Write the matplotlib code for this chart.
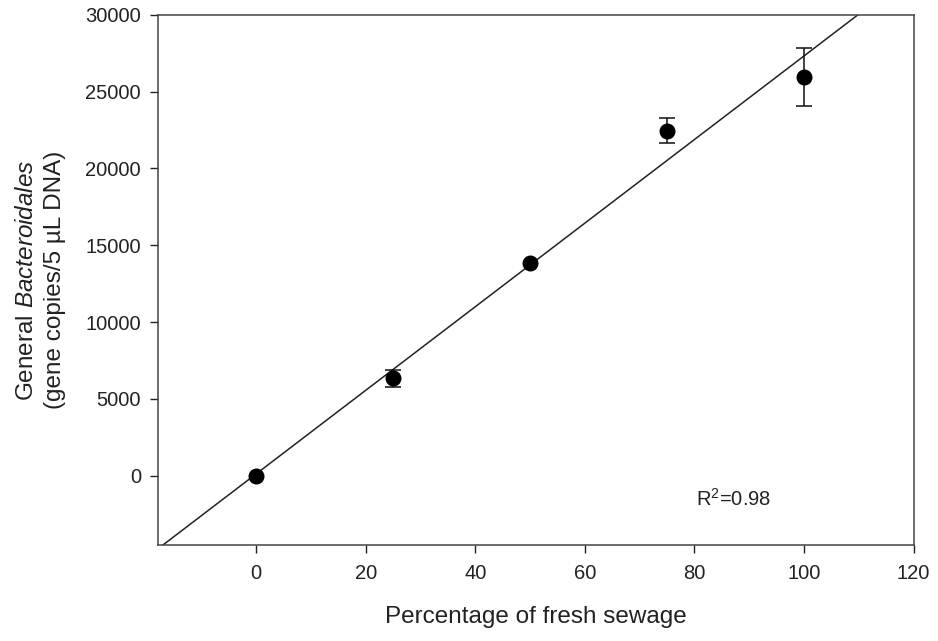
import numpy as np
import matplotlib.pyplot as plt

plt.rcParams["font.family"] = ["Liberation Sans", "DejaVu Sans"]
plt.rcParams["mathtext.fontset"] = "custom"
plt.rcParams["mathtext.rm"] = "Liberation Sans"
plt.rcParams["mathtext.it"] = "Liberation Sans:italic"

percent = [0, 25, 50, 75, 100]
copies = [0, 6350, 13850, 22450, 25950]
err_low = [0, 550, 0, 800, 1900]
err_high = [0, 550, 0, 850, 1900]

x_ticks = [0, 20, 40, 60, 80, 100, 120]
y_ticks = [0, 5000, 10000, 15000, 20000, 25000, 30000]

slope, intercept = np.polyfit(percent, copies, 1)

fig = plt.figure(figsize=(9.38, 6.41), dpi=100)
ax = fig.add_axes([0.168, 0.150, 0.806, 0.827])

xfit = np.array([-20, 125])
ax.plot(xfit, slope * xfit + intercept, color="#222222", lw=1.1)

# only points with a visible spread get error bars
has_err = [i for i in range(len(percent)) if err_low[i] > 0 or err_high[i] > 0]
ax.errorbar([percent[i] for i in has_err], [copies[i] for i in has_err],
            yerr=[[err_low[i] for i in has_err], [err_high[i] for i in has_err]],
            fmt="none", ecolor="#111111", capsize=5.8, elinewidth=1.1, capthick=1.1)
ax.plot(percent, copies, "o", color="black", markersize=10.5)

ax.set_xlim(-18, 120)
ax.set_ylim(-4500, 30000)
ax.set_xticks(x_ticks)
ax.set_yticks(y_ticks)
ax.tick_params(direction="out", length=5.5, width=1, labelsize=14.5, colors="#222222", pad=6.5)
ax.tick_params(axis="x", pad=8)

for sp in ax.spines.values():
    sp.set_linewidth(1.1)
    sp.set_color("#444444")

ax.text(80.3, -1500, "R$^2$=0.98", fontsize=14.5, va="center", color="#222222")

ax.set_xlabel("Percentage of fresh sewage", fontsize=17.5, labelpad=17, color="#222222")
ax.set_ylabel("General $\\mathit{Bacteroidales}$\n(gene copies/5 µL DNA)", fontsize=17.5,
              labelpad=14, color="#222222", linespacing=1.35)

fig.savefig("out.png", dpi=100)
